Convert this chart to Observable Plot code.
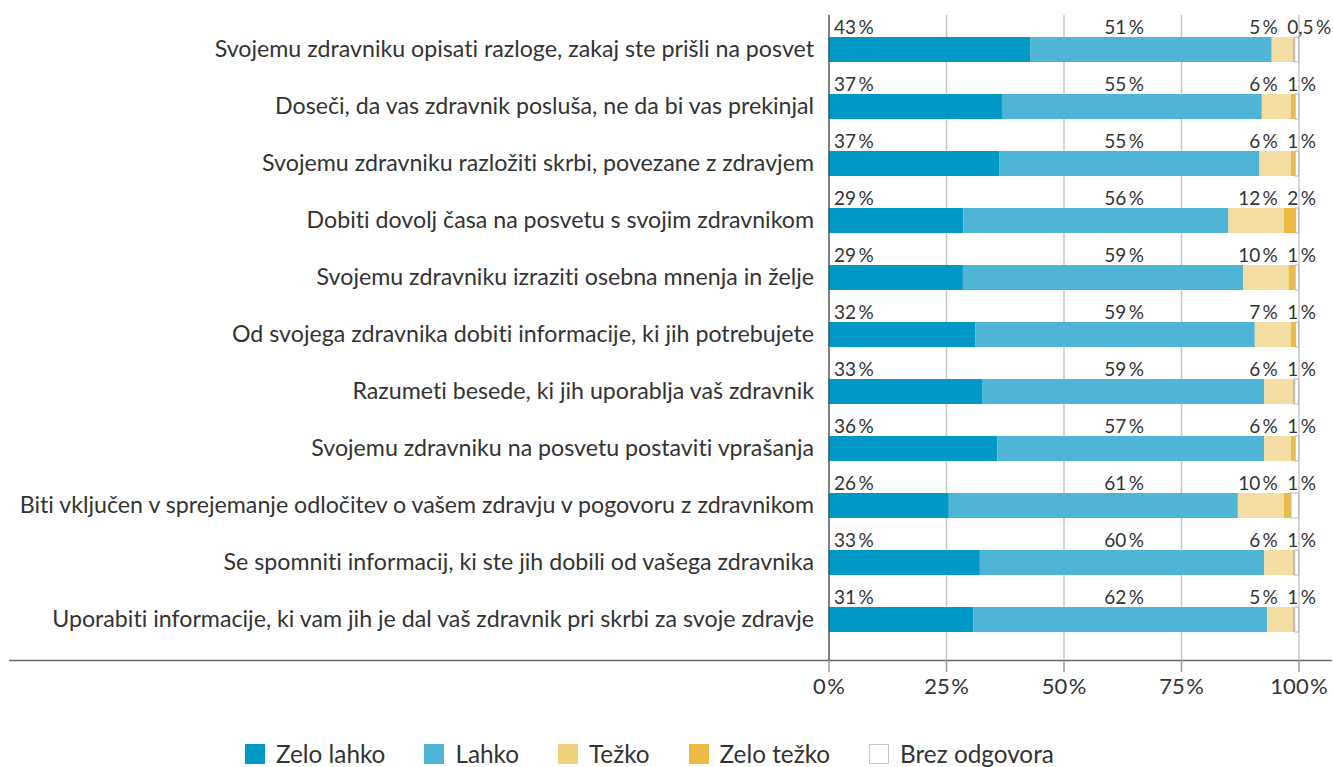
<!DOCTYPE html>
<html><head><meta charset="utf-8">
<script src="https://cdn.jsdelivr.net/npm/d3@7"></script>
<script src="https://cdn.jsdelivr.net/npm/@observablehq/plot@0.6"></script>
<style>
html,body{margin:0;padding:0;background:#fff;}
body{font-family:Lato,"Open Sans",sans-serif;color:#333;width:1333px;height:767px;overflow:hidden;font-variant-ligatures:none;}
svg text{font-variant-ligatures:none;}
#legend{display:flex;align-items:center;margin-left:245px;margin-top:22px;font-size:24.3px;color:#333;line-height:24px;}
.item{display:flex;align-items:center;margin-right:39px;}
.sw{width:20px;height:20px;margin-right:11px;box-sizing:border-box;}
</style></head><body><div id="chart"></div><div id="legend"></div>
<script>
const categories = [
  "Svojemu zdravniku opisati razloge, zakaj ste prišli na posvet",
  "Doseči, da vas zdravnik posluša, ne da bi vas prekinjal",
  "Svojemu zdravniku razložiti skrbi, povezane z zdravjem",
  "Dobiti dovolj časa na posvetu s svojim zdravnikom",
  "Svojemu zdravniku izraziti osebna mnenja in želje",
  "Od svojega zdravnika dobiti informacije, ki jih potrebujete",
  "Razumeti besede, ki jih uporablja vaš zdravnik",
  "Svojemu zdravniku na posvetu postaviti vprašanja",
  "Biti vključen v sprejemanje odločitev o vašem zdravju v pogovoru z zdravnikom",
  "Se spomniti informacij, ki ste jih dobili od vašega zdravnika",
  "Uporabiti informacije, ki vam jih je dal vaš zdravnik pri skrbi za svoje zdravje"
];
const seriesNames = ["Zelo lahko", "Lahko", "Težko", "Zelo težko", "Brez odgovora"];
const seriesColors = ["#0099c6", "#4fb5d7", "#f4dda2", "#ebbb44", "#ffffff"];
const legendColors = ["#0099c6", "#4fb5d7", "#f0d07c", "#ebbb44", "#ffffff"];

// bar lengths (%)
const zeloLahko = [42.9, 36.9, 36.3, 28.7, 28.6, 31.2, 32.8, 35.9, 25.6, 32.2, 30.8];
const lahko     = [51.4, 55.3, 55.4, 56.4, 59.6, 59.5, 59.9, 56.8, 61.5, 60.5, 62.5];
const tezko     = [4.5, 6.2, 6.7, 11.8, 9.7, 7.7, 6.1, 5.7, 9.8, 6.1, 5.5];
const zeloTezko = [0.4, 0.9, 0.9, 2.5, 1.4, 1.0, 0.4, 0.9, 1.5, 0.4, 0.4];
const brezOdg   = [0.8, 0.7, 0.7, 0.6, 0.7, 0.6, 0.8, 0.7, 1.6, 0.8, 0.8];

// printed labels (%)
const labZeloLahko = [43, 37, 37, 29, 29, 32, 33, 36, 26, 33, 31];
const labLahko     = [51, 55, 55, 56, 59, 59, 59, 57, 61, 60, 62];
const labTezko     = [5, 6, 6, 12, 10, 7, 6, 6, 10, 6, 5];
const labZeloTezko = [0.5, 1, 1, 2, 1, 1, 1, 1, 1, 1, 1];

const xTicks = [0, 25, 50, 75, 100];

const fmt = v => String(v).replace(".", ",") + "\u2009%";
const fmtTick = v => String(v) + "\u200A%";

const series = [zeloLahko, lahko, tezko, zeloTezko, brezOdg];
const rows = [];
categories.forEach((c, i) => {
  series.forEach((s, j) => rows.push({cat: c, series: seriesNames[j], value: s[i], brez: j === 4 ? 1 : 0}));
});
const labelRows = categories.map((c, i) => ({
  cat: c, zl: fmt(labZeloLahko[i]), l: fmt(labLahko[i]), t: fmt(labTezko[i]), zt: fmt(labZeloTezko[i])
}));

const chart = Plot.plot({
  width: 1333,
  height: 720,
  marginLeft: 828.5,
  marginRight: 34.5,
  marginTop: 15,
  marginBottom: 60,
  style: {fontFamily: "Lato, 'Open Sans', sans-serif", color: "#333", background: "#fff"},
  x: {domain: [0, 100]},
  y: {domain: categories, paddingInner: 0.57, paddingOuter: 0.438, align: 0.435},
  color: {domain: seriesNames, range: seriesColors},
  opacity: {type: "identity"},
  marks: [
    Plot.ruleX(xTicks.slice(1), {stroke: "#c8c8c8", strokeWidth: 1.5}),
    Plot.barX(rows, Plot.stackX({x: "value", y: "cat", fill: "series", stroke: "#b8b8b8", strokeWidth: 1, strokeOpacity: "brez", order: null})),
    Plot.ruleX([0], {stroke: "#555", strokeWidth: 1.5}),
    Plot.frame({anchor: "bottom", stroke: "#666", strokeWidth: 1.5, insetLeft: -819, insetRight: -32}),
    Plot.axisX({ticks: xTicks, tickFormat: fmtTick, tickSize: 12, tickPadding: 6, fontSize: 22, stroke: "#999", strokeWidth: 1.5, color: "#333", label: null}),
    Plot.axisY({tickSize: 0, tickPadding: 15, fontSize: 23.2, label: null, color: "#333"}),
    Plot.text(labelRows, {x: () => 0, y: "cat", text: "zl", textAnchor: "start", dx: 5, dy: -22, fontSize: 19, fill: "#333"}),
    Plot.text(labelRows, {x: () => 62.8, y: "cat", text: "l", textAnchor: "middle", dy: -22, fontSize: 19, fill: "#333"}),
    Plot.text(labelRows, {x: () => 95.5, y: "cat", text: "t", textAnchor: "end", dy: -22, fontSize: 19, fill: "#333"}),
    Plot.text(labelRows, {x: () => 97.5, y: "cat", text: "zt", textAnchor: "start", dy: -22, fontSize: 19, fill: "#333"})
  ]
});
document.getElementById("chart").appendChild(chart);

const legend = document.getElementById("legend");
seriesNames.forEach((n, i) => {
  const it = document.createElement("div");
  it.className = "item";
  const sw = document.createElement("div");
  sw.className = "sw";
  sw.style.background = legendColors[i];
  if (i === 4) sw.style.border = "1.5px solid #c8c8c8";
  const tx = document.createElement("span");
  tx.textContent = n;
  it.appendChild(sw); it.appendChild(tx);
  legend.appendChild(it);
});
</script></body></html>
